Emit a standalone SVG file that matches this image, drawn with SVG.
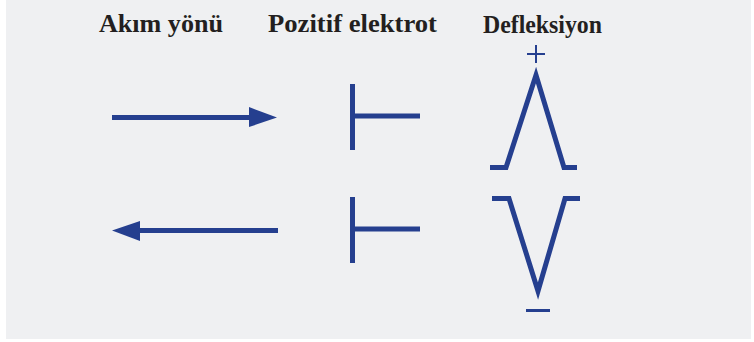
<svg xmlns="http://www.w3.org/2000/svg" width="754" height="342" viewBox="0 0 754 342">
<style>
.t{font-family:"Liberation Serif","Times New Roman",serif;font-weight:bold;font-size:24.5px;fill:#231f20}
.s{stroke:#253f8f;stroke-width:5;fill:none;stroke-linejoin:miter;stroke-miterlimit:10}
.thin{stroke:#253f8f;stroke-width:2;fill:none}
.h{fill:#253f8f}
</style>
<rect x="6" y="0" width="745" height="339" fill="#eff0f2"/>
<g id="labels">
<text class="t" x="99" y="32" textLength="124" lengthAdjust="spacingAndGlyphs">Akım yönü</text>
<text class="t" x="268" y="32" textLength="169" lengthAdjust="spacingAndGlyphs">Pozitif elektrot</text>
<text class="t" x="483" y="33" textLength="119" lengthAdjust="spacingAndGlyphs">Defleksiyon</text>
</g>
<g id="connectors">
<g id="arrow-right">
<line class="s" x1="112" y1="117.5" x2="252" y2="117.5"/>
<polygon class="h" points="249,107 277,117.5 249,127"/>
</g>
<g id="arrow-left">
<line class="s" x1="138" y1="230.5" x2="278" y2="230.5"/>
<polygon class="h" points="140,221 112,230.5 140,241"/>
</g>
</g>
<g id="electrode-top">
<line class="s" x1="352.5" y1="84" x2="352.5" y2="150"/>
<line class="s" x1="355" y1="116" x2="420" y2="116"/>
</g>
<g id="electrode-bottom">
<line class="s" x1="352.5" y1="197" x2="352.5" y2="263"/>
<line class="s" x1="355" y1="229" x2="420" y2="229"/>
</g>
<g id="deflection-plus">
<line class="thin" x1="527" y1="54" x2="545" y2="54"/>
<line class="thin" x1="536" y1="45" x2="536" y2="63"/>
<polyline class="s" points="490,167.5 506,167.5 536,75 564,167.5 577,167.5"/>
</g>
<g id="deflection-minus">
<polyline class="s" points="492,198.5 509,198.5 538,291 565,198.5 580,198.5"/>
<line class="s" x1="526" y1="310.5" x2="550" y2="310.5" style="stroke-width:3"/>
</g>
</svg>
